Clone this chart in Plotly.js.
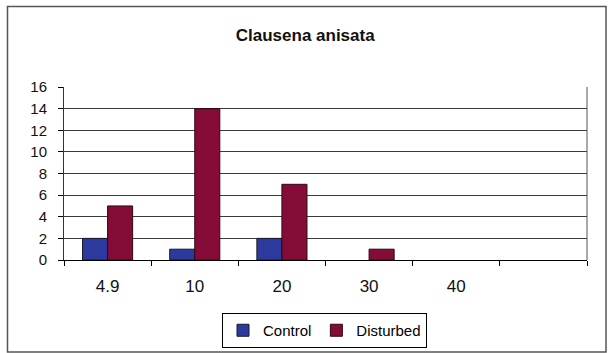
<!DOCTYPE html>
<html>
<head>
<meta charset="utf-8">
<script src="https://cdn.plot.ly/plotly-3.0.1.min.js"></script>
<style>
  html, body { margin: 0; padding: 0; background: #ffffff; }
  #chart { width: 608px; height: 353px; }
</style>
</head>
<body>
<div id="chart"></div>
<script>
// Distance classes (the last slot is an empty category, as in the original sheet)
const categories = ["4.9", "10", "20", "30", "40", " "];
const controlValues = [2, 1, 2, 0, 0, null];
const disturbedValues = [5, 14, 7, 1, 0, null];
const yTicks = [0, 2, 4, 6, 8, 10, 12, 14, 16];

const FONT = "Liberation Sans, Arial, sans-serif";

// zero-height bars get no outline so they stay invisible
const outline = vals => vals.map(v => (v ? 1 : 0));

const traces = [
  {
    type: "bar",
    name: "Control",
    x: categories,
    y: controlValues,
    marker: { color: "#2b3a9c", line: { color: "#1a1a2a", width: outline(controlValues) } },
    hoverinfo: "skip"
  },
  {
    type: "bar",
    name: "Disturbed",
    x: categories,
    y: disturbedValues,
    marker: { color: "#850b38", line: { color: "#2a0a14", width: outline(disturbedValues) } },
    hoverinfo: "skip"
  }
];

// plot area in pixels: x 64..587, y 87..260
const plotW = 523, plotH = 173, plotL = 64, plotB = 260;
const px = v => (v - plotL) / plotW;
const py = v => (plotB - v) / plotH;

const layout = {
  width: 608,
  height: 353,
  margin: { l: 64, r: 21, t: 87, b: 93, pad: 0 },
  paper_bgcolor: "#ffffff",
  plot_bgcolor: "#ffffff",
  font: { family: FONT, color: "#000000" },
  title: {
    text: "<b>Clausena anisata</b>",
    font: { family: FONT, size: 17, color: "#111111" },
    x: 0.502,
    xanchor: "center",
    y: 1 - 35 / 353,
    yanchor: "middle"
  },
  barmode: "group",
  bargap: 0.425,
  bargroupgap: 0,
  showlegend: true,
  legend: {
    orientation: "h",
    xref: "container",
    yref: "container",
    x: 324.5 / 608,
    xanchor: "center",
    y: 1 - 313 / 353,
    yanchor: "top",
    bordercolor: "#000000",
    borderwidth: 1,
    bgcolor: "#ffffff",
    font: { family: FONT, size: 15, color: "#000000" },
    itemwidth: 30,
    tracegroupgap: 0
  },
  xaxis: {
    type: "category",
    categoryorder: "array",
    categoryarray: categories,
    range: [-0.5, 5.5],
    tickson: "boundaries",
    ticks: "outside",
    ticklen: 5,
    tickcolor: "#000000",
    tickwidth: 1,
    showline: true,
    linecolor: "#000000",
    linewidth: 1,
    mirror: false,
    showgrid: false,
    ticklabelstandoff: 11,
    tickfont: { family: FONT, size: 17, color: "#111111" },
    fixedrange: true,
    automargin: false
  },
  yaxis: {
    range: [0, 16],
    tickvals: yTicks,
    ticktext: yTicks.map(String),
    ticks: "outside",
    ticklen: 5,
    tickcolor: "#000000",
    tickwidth: 1,
    showline: true,
    linecolor: "#333333",
    linewidth: 1,
    showgrid: true,
    gridcolor: "#3a3a3a",
    gridwidth: 1,
    zeroline: false,
    ticklabelstandoff: 8,
    tickfont: { family: FONT, size: 15, color: "#111111" },
    fixedrange: true,
    automargin: false
  },
  shapes: [
    // right edge of the plot area
    {
      type: "line", xref: "paper", yref: "paper",
      x0: 1, x1: 1, y0: 0, y1: 1,
      line: { color: "#555555", width: 1 }
    },
    // outer chart frame
    {
      type: "rect", xref: "paper", yref: "paper",
      x0: px(7.5), x1: px(606), y0: py(352), y1: py(6.5),
      line: { color: "#555555", width: 1.5 },
      fillcolor: "rgba(0,0,0,0)",
      layer: "above"
    }
  ]
};

Plotly.newPlot("chart", traces, layout, { displayModeBar: false, staticPlot: true });
</script>
</body>
</html>
